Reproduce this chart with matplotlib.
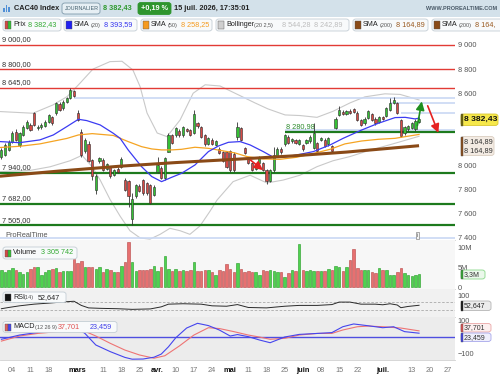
import numpy as np
import matplotlib.pyplot as plt
from matplotlib.patches import Rectangle, FancyBboxPatch

plt.rcParams['font.family'] = ['Liberation Sans', 'DejaVu Sans']

# daily candles CAC40, bar 0 = 30 Jan 2026, last bar = 15 Jul 2026
opens = [8068, 8090, 8130, 8199, 8282, 8171, 8254, 8309, 8337, 8434,
         8310, 8320, 8325, 8365, 8406, 8434, 8510, 8475, 8530, 8560,
         8615, 8440, 8282, 8120, 8175, 8045, 7800, 8035, 8045, 7970,
         7990, 7920, 7975, 7990, 7880, 7870, 7560, 7745, 7830, 7880,
         7853, 7840, 7760, 7950, 7980, 7900, 8116, 8250, 8255, 8290,
         8250, 8300, 8295, 8270, 8350, 8320, 8255, 8180, 8215, 8170,
         8140, 8110, 8115, 8120, 8100, 8240, 8310, 8143, 8060, 8020,
         7970, 8020, 8020, 7960, 7870, 7960, 8080, 8140, 8175, 8240,
         8200, 8210, 8180, 8170, 8190, 8200, 8145, 8185, 8210, 8215,
         8175, 8160, 8310, 8420, 8445, 8430, 8455, 8470, 8440, 8375,
         8350, 8395, 8425, 8390, 8365, 8400, 8410, 8465, 8520, 8520,
         8380, 8270, 8300, 8310, 8300, 8365]
highs = [8145, 8190, 8215, 8290, 8300, 8280, 8340, 8380, 8350, 8445,
         8335, 8350, 8380, 8430, 8415, 8525, 8530, 8545, 8570, 8640,
         8630, 8461, 8300, 8225, 8200, 8055, 7930, 8075, 8060, 8025,
         8000, 7975, 7990, 8070, 7895, 7880, 7770, 7850, 7845, 7890,
         7865, 7850, 7835, 8075, 8000, 8075, 8270, 8260, 8320, 8300,
         8330, 8310, 8305, 8461, 8360, 8330, 8265, 8240, 8225, 8215,
         8150, 8120, 8125, 8130, 8110, 8365, 8320, 8150, 8070, 8030,
         8000, 8080, 8030, 7975, 7975, 8150, 8150, 8150, 8260, 8250,
         8230, 8220, 8220, 8180, 8220, 8250, 8351, 8195, 8240, 8225,
         8240, 8170, 8400, 8490, 8460, 8465, 8470, 8480, 8450, 8385,
         8400, 8460, 8440, 8400, 8410, 8410, 8485, 8560, 8570, 8530,
         8390, 8330, 8335, 8360, 8390, 8400]
lows = [8055, 8080, 8120, 8190, 8205, 8150, 8245, 8300, 8285, 8325,
        8295, 8305, 8320, 8355, 8340, 8420, 8455, 8465, 8520, 8550,
        8570, 8370, 8070, 8105, 8030, 7880, 7765, 8020, 7955, 7960,
        7900, 7910, 7940, 7980, 7790, 7660, 7505, 7735, 7780, 7760,
        7760, 7680, 7750, 7940, 7885, 7880, 8110, 8180, 8240, 8240,
        8240, 8280, 8245, 8260, 8315, 8230, 8165, 8170, 8170, 8160,
        8095, 8030, 7980, 7950, 7950, 8215, 8205, 8095, 8010, 7955,
        7960, 8010, 7955, 7848, 7860, 7950, 8070, 8100, 8165, 8175,
        8190, 8180, 8170, 8125, 8180, 8190, 8135, 8110, 8200, 8150,
        8165, 8110, 8300, 8410, 8420, 8420, 8430, 8440, 8370, 8330,
        8340, 8385, 8370, 8340, 8355, 8375, 8400, 8455, 8510, 8430,
        8240, 8255, 8290, 8300, 8290, 8355]
closes = [8130, 8171, 8199, 8268, 8213, 8268, 8323, 8365, 8295, 8337,
          8320, 8335, 8365, 8420, 8351, 8517, 8465, 8530, 8560, 8627,
          8580, 8380, 8090, 8210, 8040, 7910, 7915, 8060, 7965, 8010,
          7910, 7965, 7950, 8055, 7800, 7745, 7720, 7840, 7790, 7771,
          7771, 7690, 7826, 8005, 7900, 8060, 8254, 8190, 8310, 8250,
          8320, 8290, 8255, 8430, 8325, 8240, 8175, 8230, 8180, 8205,
          8105, 8040, 7990, 7965, 7965, 8320, 8215, 8105, 8020, 7964,
          7990, 8070, 7965, 7870, 7965, 8090, 8140, 8110, 8250, 8185,
          8220, 8190, 8210, 8135, 8210, 8240, 8270, 8120, 8230, 8160,
          8230, 8120, 8385, 8460, 8430, 8455, 8440, 8448, 8380, 8340,
          8390, 8450, 8380, 8350, 8400, 8385, 8475, 8520, 8540, 8440,
          8245, 8320, 8325, 8350, 8366.5, 8382.43]
# volume in millions
volumes = [4.3, 3.8, 4.3, 4.9, 4.3, 3.9, 3.4, 3.8, 4.6, 5.1,
           5.1, 3.1, 3.8, 4.3, 4.6, 4.9, 3.9, 4.0, 4.0, 4.2,
           7.2, 6.2, 6.6, 5.1, 5.1, 5.1, 4.7, 5.1, 3.8, 4.6,
           4.3, 3.8, 3.8, 5.5, 6.4, 11.5, 6.4, 4.1, 4.3, 4.4,
           4.3, 4.6, 5.5, 4.2, 5.1, 7.9, 4.6, 4.0, 4.6, 4.0,
           4.3, 4.0, 4.3, 6.4, 4.0, 4.0, 4.3, 4.3, 3.8, 3.2,
           4.3, 4.0, 6.0, 4.6, 3.8, 6.2, 4.6, 3.8, 4.0, 3.8,
           3.8, 3.2, 4.4, 4.0, 4.4, 4.0, 3.9, 3.8, 2.6, 3.6,
           4.4, 4.0, 10.9, 4.4, 4.2, 4.4, 4.0, 4.0, 4.0, 4.2,
           4.6, 4.3, 5.3, 5.1, 4.0, 5.1, 6.8, 9.7, 4.9, 4.3,
           4.4, 4.3, 3.9, 3.6, 4.9, 4.4, 4.3, 3.0, 3.2, 3.9,
           4.9, 3.6, 3.0, 2.7, 3.2, 3.3]

# indicator lines read at key points (bar index, value)
sma20_x = [-0.4, 5, 10.6, 14.3, 18, 21.2, 23.5, 27.2, 30.8, 32.7, 34.9, 38.6, 41.4, 44.1, 46.9,
           49.6, 53.3, 57, 59.8, 62.5, 65.7, 68.5, 72.1, 74.9, 77.6, 81.3, 85.9, 90.5, 94.1,
           99.2, 103.8, 108.4, 111.2, 113.9, 115]
sma20_y = [8199, 8190, 8213, 8254, 8323, 8384, 8373, 8337, 8268, 8226, 8130, 7991, 7909, 7867, 7903,
           7936, 8005, 8116, 8163, 8193, 8199, 8171, 8116, 8069, 8069, 8088, 8116, 8171, 8226,
           8295, 8351, 8398, 8400, 8387, 8393.59]
sma50_x = [-0.4, 5, 10.6, 18, 21.2, 25, 30.8, 34.9, 38.6, 41.4, 44.1, 46.9, 49.6, 53.3, 57,
           60.7, 64.3, 67.6, 72.1, 76.7, 81.3, 85.9, 90.5, 94.6, 99.2, 103.8, 108.4, 111.2, 115]
sma50_y = [8150, 8160, 8180, 8225, 8254, 8265, 8250, 8199, 8157, 8138, 8130, 8130, 8135, 8152, 8143,
           8124, 8105, 8075, 8055, 8052, 8069, 8100, 8135, 8180, 8204, 8218, 8226, 8240, 8258.25]
sma200_x = [-0.4, 16, 32.7, 48, 64.3, 80, 95, 115]
sma200_y = [7912, 7955, 7995, 8025, 8052, 8080, 8112, 8164.89]
boll_up_x = [-0.4, 8.7, 14.2, 18.1, 21.6, 25.2, 29.9, 33.2, 36.2, 38.2, 40.1, 42.9, 45.6, 49.2,
             52.8, 56.1, 60.2, 65.7, 69.8, 73.4, 78.1, 82.2, 86.9, 91.3, 96, 100.1, 105.6, 109.8, 115]
boll_up_y = [8448, 8434, 8503, 8572, 8682, 8800, 8862, 8865, 8793, 8654, 8436, 8270, 8240, 8378,
             8600, 8670, 8660, 8580, 8520, 8470, 8420, 8415, 8400, 8450, 8520, 8570, 8595, 8590, 8544.28]
boll_lo_x = [-0.4, 7.9, 13.4, 18.9, 22.2, 25, 27.2, 29.9, 32.7, 35.4, 38.2, 40.9, 43.7, 46.4, 49.2,
             51.9, 54.7, 57.4, 59.4, 63.8, 68.5, 73.1, 77.6, 82.2, 86.9, 91.3, 96, 100.7, 107.8, 115]
boll_lo_y = [7950, 7960, 7990, 8040, 8085, 7990, 7880, 7720, 7580, 7460, 7400, 7390, 7430, 7480, 7460,
             7430, 7500, 7620, 7715, 7867, 7920, 7856, 7880, 7920, 7991, 8040, 8075, 8120, 8180, 8242.89]
rsi_x = [0, 2, 5, 9, 13, 18, 20, 22, 24, 27, 32, 36, 41, 44, 46, 50, 55, 58, 62, 65, 68, 73,
         78, 82, 87, 91, 93, 96, 99, 103, 105, 107, 109, 110, 112, 115]
rsi_y = [36, 42, 50, 58, 63, 70, 72, 52, 40, 38, 36, 33, 35, 45, 58, 60, 58, 50, 48, 56, 42, 40,
         48, 52, 52, 56, 68, 68, 58, 58, 55, 60, 54, 41, 47, 52.647]
macd_x = [0, 5, 10, 15, 19, 21, 23, 26, 30, 34, 36, 39, 42, 44, 46, 48, 51, 54, 57, 60, 63, 65,
          68, 71, 74, 78, 82, 87, 91, 94, 97, 101, 105, 108, 111, 115]
macd_y = [-14, 12, 28, 42, 55, 52, 22, -49, -90, -125, -136, -135, -124, -105, -60, -5, 55, 84, 70,
          43, 6, 15, 2, -18, -35, 0, 16, 22, 27, 63, 80, 69, 57, 63, 33, 23.459]
signal_x = [0, 5, 10, 18, 22, 26, 30, 34, 38, 42, 45, 49, 53, 57, 60, 64, 68, 71, 74, 78, 82,
            87, 91, 94, 98, 101, 105, 110, 115]
signal_y = [-25, 6, 22, 38, 45, 6, -39, -80, -110, -130, -115, -55, 12, 57, 52, 33, 12, 0, -14, -8, 12,
            22, 22, 43, 63, 67, 63, 55, 37.701]

red_levels = [9000, 8800, 8645]
green_levels = [7940, 7682, 7505]
level_labels_red = ['9 000,00', '8 800,00', '8 645,00']
level_labels_green = ['7 940,00', '7 682,00', '7 505,00']
support_level, support_start = 8280.98, 78
lightblue_levels = [8558, 8515, 8435, 8296, 7400]
lightblue_start = [20, 107, 110, 78, -1]
arrows = [((114.4, 8309), (115.9, 8555), '#1f8f1f'),
          ((117.1, 8517), (120.6, 8250), '#e52222'),
          ((68, 8060), (72.6, 7948), '#e52222')]

tick_pos = [3, 8, 13, 21, 28, 33, 38, 43, 48, 53, 58, 63, 68, 73, 78, 83, 88, 93, 98, 105, 113, 118, 123]
tick_labels = ['04', '11', '18', 'mars', '11', '18', '25', 'avr.', '10', '17', '24', 'mai',
               '11', '18', '25', 'juin', '08', '15', '22', 'juil.', '13', '20', '27']
months = ['mars', 'avr.', 'mai', 'juin', 'juil.']

W, H = 500, 375
fig = plt.figure(figsize=(5, 3.75), dpi=100)
fig.patch.set_facecolor('white')


def fx(x):
    return x / W


def fy(y):
    return 1 - y / H


def rect_px(x0, y0, x1, y1):
    return [fx(x0), fy(y1), (x1 - x0) / W, (y1 - y0) / H]


def txt(x, y, s, size=5.2, **kw):
    fig.text(fx(x), fy(y), s, fontsize=size, va='center', ha=kw.pop('ha', 'left'), **kw)


def rbox(x0, x1, y0, y1, fc, ec, lw=0.6):
    fig.patches.append(FancyBboxPatch((fx(x0), fy(y1)), (x1 - x0) / W, (y1 - y0) / H,
                                      boxstyle='round,pad=0,rounding_size=0.006',
                                      transform=fig.transFigure, fc=fc, ec=ec, lw=lw))


def square(x0, y0, x1, y1, color):
    fig.patches.append(Rectangle((fx(x0), fy(y1)), (x1 - x0) / W, (y1 - y0) / H,
                                 transform=fig.transFigure, fc=color, ec='#555555', lw=0.3))


xmin, xmax = -0.386, 124.9
ax_p = fig.add_axes(rect_px(0, 17, 455, 240))
ax_v = fig.add_axes(rect_px(0, 240, 455, 289))
ax_r = fig.add_axes(rect_px(0, 289, 455, 317))
ax_m = fig.add_axes(rect_px(0, 317, 455, 360))

for ax, bg in [(ax_p, 'white'), (ax_v, '#f7f7f7'), (ax_r, '#f1f1f1'), (ax_m, '#ececec')]:
    ax.set_facecolor(bg)
    ax.set_xlim(xmin, xmax)
    for s in ['top', 'left', 'right']:
        ax.spines[s].set_visible(False)
    ax.spines['bottom'].set_color('#d0d0d0')
    ax.spines['bottom'].set_linewidth(0.6)
    ax.yaxis.tick_right()
    ax.tick_params(axis='y', length=0, pad=2, labelsize=5.3, labelcolor='#555555')
    ax.tick_params(axis='x', length=0)
    ax.set_xticks([])

# ---- price panel ----
ax_p.set_ylim(7383, 9232)
ax_p.set_yticks([9000, 8800, 8600, 8000, 7800, 7600, 7400])
ax_p.set_yticklabels(['9 000', '8 800', '8 600', '8 000', '7 800', '7 600', '7 400'])

ax_p.plot(boll_up_x, boll_up_y, color='#c9c9c9', lw=0.8, zorder=1)
ax_p.plot(boll_lo_x, boll_lo_y, color='#c9c9c9', lw=0.8, zorder=1)

for lvl, st in zip(lightblue_levels, lightblue_start):
    ax_p.hlines(lvl, st, xmax, color='#c9d8f4', lw=1.2, zorder=1.5)
for lvl, lab in zip(red_levels, level_labels_red):
    ax_p.axhline(lvl, color='#e23b35', lw=1.0, zorder=2)
    ax_p.text(0.3, lvl + 12, lab, fontsize=5.3, color='#333333', va='bottom')
for lvl, lab in zip(green_levels, level_labels_green):
    ax_p.axhline(lvl, color='#1d7a1d', lw=1.6, zorder=2)
    ax_p.text(0.3, lvl + 14, lab, fontsize=5.3, color='#333333', va='bottom')
ax_p.hlines(support_level, support_start, xmax, color='#1d7a1d', lw=1.6, zorder=2)
ax_p.text(support_start + 0.5, support_level + 14, '8 280,98', fontsize=5.3,
          color='#2e8b2e', va='bottom')

idx = np.arange(len(closes))
o = np.array(opens)
c = np.array(closes)
up = c >= o
body_col = np.where(up, '#35c035', '#d64a45')
ax_p.vlines(idx, lows, highs, color='#333333', lw=0.6, zorder=3)
ax_p.bar(idx, np.maximum(np.abs(c - o), 5), bottom=np.minimum(o, c), width=0.6,
         color=body_col, edgecolor='#2b2b2b', lw=0.4, zorder=4)

ax_p.plot(sma50_x, sma50_y, color='#f5a423', lw=0.9, zorder=5)
ax_p.plot(sma20_x, sma20_y, color='#3b3bf2', lw=0.9, zorder=5)
ax_p.plot(sma200_x, sma200_y, color='#8a4a17', lw=2.2, zorder=5, solid_capstyle='butt')

for start, end, col in arrows:
    ax_p.annotate('', xy=end, xytext=start,
                  arrowprops=dict(arrowstyle='-|>,head_length=0.5,head_width=0.25',
                                  color=col, lw=1.2), zorder=6)

ax_p.text(1.0, 7420, 'ProRealTime', fontsize=5.3, color='#555555', va='center')
ax_p.text(114.6, 7418, 'i', fontsize=4.5, color='#666666', va='center', ha='center',
          bbox=dict(boxstyle='square,pad=0.15', fc='#f4f4f4', ec='#888888', lw=0.5))

# ---- volume panel ----
ax_v.set_ylim(-0.51, 12.05)
ax_v.set_yticks([10, 5, 0])
ax_v.set_yticklabels(['10M', '5M', '0'])
ax_v.bar(idx, volumes, width=0.7, color=np.where(up, '#4fd24f', '#e77070'),
         edgecolor=np.where(up, '#239a23', '#b84444'), lw=0.4)

# ---- RSI panel ----
ax_r.set_ylim(-3.9, 131.1)
ax_r.set_yticks([100])
ax_r.set_yticklabels(['100'])
ax_r.axhline(70, color='#aaaaaa', lw=0.6, ls=(0, (3, 2)))
ax_r.axhline(30, color='#aaaaaa', lw=0.6, ls=(0, (3, 2)))
ax_r.plot(rsi_x, rsi_y, color='#2a2a2a', lw=0.7)

# ---- MACD panel ----
ax_m.set_ylim(-141, 122.7)
ax_m.set_yticks([100, -100])
ax_m.set_yticklabels(['100', '\u2212100'])
ax_m.axhline(0, color='#4e4ee0', lw=1.0)
ax_m.plot(signal_x, signal_y, color='#ee7474', lw=0.8)
ax_m.plot(macd_x, macd_y, color='#4545ee', lw=0.8)
ax_m.set_xticks(tick_pos)
ax_m.set_xticklabels(tick_labels)
ax_m.tick_params(axis='x', length=0, pad=5, labelsize=5.3, labelcolor='#777777')
for lab in ax_m.get_xticklabels():
    if lab.get_text() in months:
        lab.set_color('#111111')
        lab.set_fontweight('bold')

# ---- header ----
fig.patches.append(Rectangle((0, fy(17)), 1, 17 / H, transform=fig.transFigure,
                             fc='#d3e1ea', ec='none'))
for bx, bh in [(3, 4), (5.5, 7), (8, 5)]:
    fig.patches.append(Rectangle((fx(bx), fy(12)), 1.6 / W, bh / H, transform=fig.transFigure,
                                 fc='#4f8fd6', ec='none'))
txt(14, 8.5, 'CAC40 Index', size=5.3, fontweight='bold', color='#222222')
rbox(62, 100, 3, 14, '#e6eff4', '#7f9aab')
txt(64.5, 8.7, 'JOURNALIER', size=3.9, color='#44606e')
txt(103, 8.5, '8 382,43', size=5.3, fontweight='bold', color='#2f9a2f')
rbox(138, 171, 2.5, 14.5, '#2e952e', '#2e952e')
txt(141, 8.5, '+0,19 %', size=5.3, fontweight='bold', color='white')
txt(174, 8.5, '15 juil. 2026, 17:35:01', size=5.3, fontweight='bold', color='#222222')
txt(497, 9, 'WWW.PROREALTIME.COM', size=4.0, fontweight='bold', color='#4a5a68', ha='right')

# ---- legend row ----
lg_fc, lg_ec = '#f8fafb', '#c4ced5'
rbox(3, 61, 19, 31, lg_fc, lg_ec)
square(5, 21.5, 8, 28.5, '#d64a45')
square(8, 21.5, 11, 28.5, '#35c035')
txt(13, 25, 'Prix', color='#222222')
txt(28.5, 25, '8 382,43', color='#33aa33')
rbox(64, 137, 19, 31, lg_fc, lg_ec)
square(66, 21.5, 72, 28.5, '#2020f0')
txt(74, 25, 'SMA', color='#222222')
txt(90.5, 25.3, '(20)', size=4.0, color='#555555')
txt(104, 25, '8 393,59', color='#3434f0')
rbox(141, 212, 19, 31, lg_fc, lg_ec)
square(143, 21.5, 149, 28.5, '#f59a1e')
txt(151, 25, 'SMA', color='#222222')
txt(167.5, 25.3, '(50)', size=4.0, color='#555555')
txt(181, 25, '8 258,25', color='#f59a1e')
rbox(216, 349, 19, 31, lg_fc, lg_ec)
square(218, 21.5, 224, 28.5, '#cfcfcf')
txt(226, 25, 'Bollinger', color='#222222')
txt(254, 25.3, '(20 2,5)', size=4.0, color='#555555')
txt(282, 25, '8 544,28', color='#bdbdbd')
txt(314.5, 25, '8 242,89', color='#bdbdbd')
rbox(353, 428, 19, 31, lg_fc, lg_ec)
square(355, 21.5, 361, 28.5, '#8a4a17')
txt(363, 25, 'SMA', color='#222222')
txt(379.5, 25.3, '(200)', size=4.0, color='#555555')
txt(396, 25, '8 164,89', color='#9a5a20')
rbox(432, 506, 19, 31, lg_fc, lg_ec)
square(434, 21.5, 440, 28.5, '#8a4a17')
txt(442, 25, 'SMA', color='#222222')
txt(458.5, 25.3, '(200)', size=4.0, color='#555555')
txt(475, 25, '8 164,', color='#9a5a20')

# ---- panel labels ----
rbox(3, 77, 247, 259, lg_fc, lg_ec)
square(5, 249.5, 8, 256.5, '#d64a45')
square(8, 249.5, 11, 256.5, '#35c035')
txt(13, 253, 'Volume', color='#222222')
txt(41, 253, '3 305 742', color='#33aa33')
rbox(3, 66, 292, 302.5, lg_fc, lg_ec)
square(5, 293.8, 11, 300.8, '#111111')
txt(13, 297.3, 'RSI', color='#222222')
txt(23.5, 297.5, '(14)', size=4.0, color='#555555')
txt(38, 297.3, '52,647', color='#222222')
rbox(3, 117, 321.5, 332.5, lg_fc, lg_ec)
square(5, 323.5, 8, 330.5, '#e06060')
square(8, 323.5, 11, 330.5, '#4545ee')
txt(13, 327, 'MACD', color='#222222')
txt(35, 327.3, '(12 26 9)', size=4.0, color='#555555')
txt(58, 327, '37,701', color='#e05050')
txt(90, 327, '23,459', color='#3f3fe8')

# ---- right-side value boxes ----
rbox(461, 498, 114, 125.5, '#f6e84a', '#d9c732')
square(461, 114, 462.6, 125.5, '#6e6500')
txt(464, 119.8, '8 382,43', size=6.1, fontweight='bold', color='#111111')
rbox(461, 494, 136.5, 155.5, '#f3ebe3', '#dacdc0')
square(461, 136.5, 462.6, 155.5, '#8a4a17')
txt(464, 141.3, '8 164,89', color='#333333')
txt(464, 150.3, '8 164,89', color='#333333')
rbox(461, 485, 270, 279, '#ebf8eb', '#8ad88a')
square(461, 270, 462.6, 279, '#2faa2f')
txt(464, 274.6, '3,3M', size=5.0, color='#333333')
rbox(461, 491, 301, 310.5, '#ececec', '#b5b5b5')
square(461, 301, 462.6, 310.5, '#111111')
txt(464, 305.8, '52,647', size=5.0, color='#222222')
rbox(461, 491, 323.5, 332, '#fcefef', '#eba7a7')
square(461, 323.5, 462.6, 332, '#e05050')
txt(464, 327.8, '37,701', size=5.0, color='#333333')
rbox(461, 491, 333, 341.5, '#efeffc', '#a7a7eb')
square(461, 333, 462.6, 341.5, '#3f3fe8')
txt(464, 337.3, '23,459', size=5.0, color='#333333')

fig.savefig('out.png', dpi=100)
